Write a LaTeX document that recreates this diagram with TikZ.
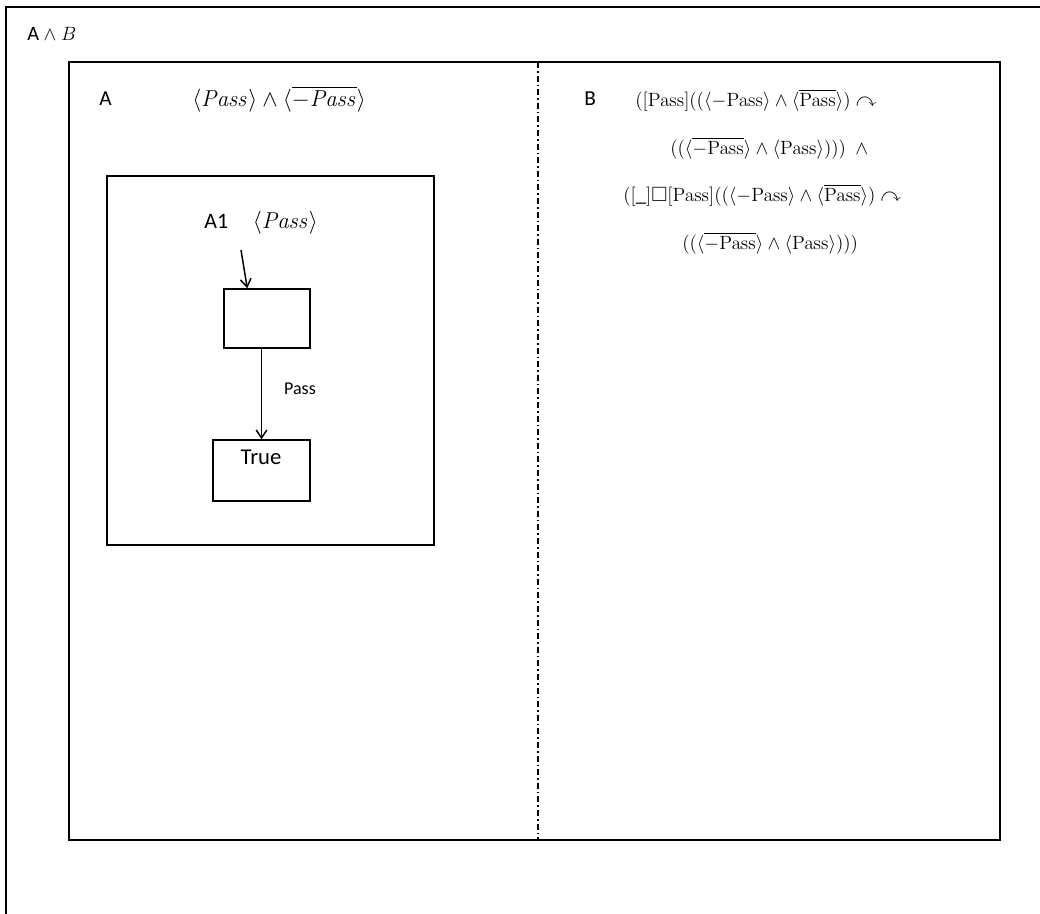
\documentclass[tikz,border=0pt]{standalone}
\usepackage{amsmath,amssymb}
\usepackage[no-math]{fontspec}
\setmainfont{Carlito}
\usetikzlibrary{arrows.meta}
\begin{document}
\begin{tikzpicture}[x=0.75pt,y=-0.75pt,
  frame/.style={draw=black,line width=1.2pt},
  boxnode/.style={draw=black,line width=1.1pt,inner sep=0pt},
  arr/.style={line width=1.1pt,-{Straight Barb[length=6pt,width=8pt,line width=1.1pt]}},
  txt/.style={inner sep=0pt,font=\fontsize{16}{19}\selectfont},
  formula/.style={inner sep=0pt,anchor=west,font=\fontsize{15.5}{18}\selectfont}]
\useasboundingbox (0,0) rectangle (1040,914);
% outer frame (cut by the page)
\draw[frame] (6,914) -- (6,7) -- (1040,7);
\node[txt,anchor=west,font=\fontsize{15.3}{18}\selectfont] (ab) at (27,34) {A $\wedge$ $B$};
% main frame
\draw[frame] (69,62) rectangle (1000,840);
\coordinate (dtop) at (538,62);
\coordinate (dbot) at (538,840);
\draw[line width=0.8pt,dash pattern=on 4.5pt off 2.25pt on 1.2pt off 2.25pt] (dtop) -- (dbot);
% part A
\node[txt,anchor=west] (la) at (99,99) {A};
\node[formula,font=\fontsize{16.5}{19}\selectfont] (fa) at (192,99) {$\langle \mathit{Pass}\rangle \wedge \langle\overline{-\mathit{Pass}}\rangle$};
\draw[frame] (107,176) rectangle (434,545);
\node[txt,anchor=west,font=\fontsize{16.5}{19}\selectfont] (la1) at (204,223) {A1\hspace{18.5pt}$\langle \mathit{Pass}\rangle$};
\node[boxnode,minimum width=64.5pt,minimum height=44.25pt] (b1) at (267,318.5) {};
\node[boxnode,minimum width=72.75pt,minimum height=45.75pt] (t) at (261.5,470.5) {};
\node[txt,font=\fontsize{17}{20}\selectfont] (tt) at (261,457) {True};
\coordinate (s) at (241,250);
\draw[arr] (s) -- ([xshift=18pt]b1.north west);
\draw[arr] (b1.south -| t.north) -- (t.north);
\node[txt,font=\fontsize{13.5}{16}\selectfont] (lp) at (300,389) {Pass};
% part B
\node[txt,anchor=west] (lb) at (584,99) {B};
\node[formula] (f1) at (635,100) {$([\mathrm{Pass}]((\langle-\mathrm{Pass}\rangle \wedge \langle\overline{\mathrm{Pass}}\rangle)\curvearrowright$};
\node[formula] (f2) at (670,148) {$((\langle\overline{-\mathrm{Pass}}\rangle \wedge \langle\mathrm{Pass}\rangle)))\ \ \wedge$};
\node[formula] (f3) at (623,195) {$([\_]\square[\mathrm{Pass}]((\langle-\mathrm{Pass}\rangle \wedge \langle\overline{\mathrm{Pass}}\rangle)\curvearrowright$};
\node[formula] (f4) at (682,243) {$((\langle\overline{-\mathrm{Pass}}\rangle \wedge \langle\mathrm{Pass}\rangle)))$};
\end{tikzpicture}
\end{document}
